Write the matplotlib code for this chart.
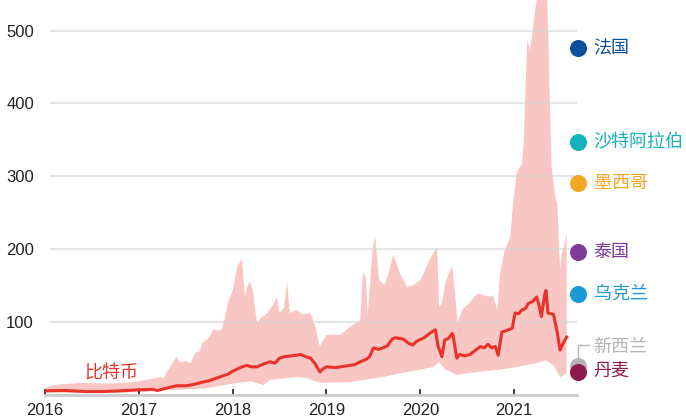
import numpy as np
import matplotlib
matplotlib.use("Agg")
import matplotlib.pyplot as plt

plt.rcParams['font.family'] = ['Liberation Sans', 'Noto Sans CJK SC', 'DejaVu Sans']

# upper edge of the shaded range (decimal year, value)
t_upper = [2016.00, 2016.10, 2016.37, 2016.70, 2016.94, 2017.08, 2017.23, 2017.26, 2017.30, 2017.37,
           2017.40, 2017.44, 2017.50, 2017.55, 2017.60, 2017.65, 2017.68, 2017.75, 2017.79, 2017.86,
           2017.89, 2017.92, 2017.95, 2018.00, 2018.05, 2018.08, 2018.10, 2018.13, 2018.16, 2018.19,
           2018.22, 2018.24, 2018.26, 2018.30, 2018.37, 2018.44, 2018.47, 2018.50, 2018.55, 2018.58,
           2018.61, 2018.68, 2018.75, 2018.83, 2018.88, 2018.93, 2019.00, 2019.15, 2019.25, 2019.36,
           2019.39, 2019.42, 2019.44, 2019.49, 2019.52, 2019.56, 2019.62, 2019.67, 2019.71, 2019.75,
           2019.78, 2019.86, 2019.92, 2020.00, 2020.05, 2020.10, 2020.16, 2020.18, 2020.20, 2020.23,
           2020.26, 2020.30, 2020.34, 2020.37, 2020.40, 2020.45, 2020.52, 2020.58, 2020.62, 2020.70,
           2020.78, 2020.82, 2020.85, 2020.90, 2020.96, 2020.99, 2021.03, 2021.08, 2021.10, 2021.14,
           2021.17, 2021.19, 2021.22, 2021.26, 2021.31, 2021.35, 2021.36, 2021.38, 2021.40, 2021.44,
           2021.46, 2021.48, 2021.49, 2021.51, 2021.54, 2021.56]
upper = [9, 13, 16, 15, 17, 20, 24, 22, 31, 45,
         52, 44, 46, 43, 57, 60, 71, 78, 89, 88,
         91, 107, 126, 143, 176, 182, 187, 134, 150, 155,
         140, 116, 98, 105, 112, 125, 134, 112, 120, 155,
         112, 116, 110, 112, 93, 66, 82, 82, 93, 102,
         169, 160, 110, 198, 217, 157, 151, 170, 192, 180,
         167, 148, 150, 157, 170, 185, 199, 201, 120, 125,
         150, 165, 176, 140, 98, 118, 125, 135, 139, 135,
         135, 116, 167, 198, 217, 265, 306, 316, 340, 487,
         473, 491, 524, 560, 580, 560, 514, 404, 312, 270,
         263, 198, 171, 194, 208, 221]

# lower edge of the shaded range
t_lower = [2016.00, 2016.50, 2017.00, 2017.30, 2017.68, 2018.05, 2018.20, 2018.33, 2018.40, 2018.70,
           2018.80, 2018.93, 2019.25, 2019.40, 2019.60, 2019.78, 2020.00, 2020.14, 2020.20, 2020.26,
           2020.39, 2020.55, 2020.83, 2021.00, 2021.20, 2021.34, 2021.42, 2021.49, 2021.56]
lower = [3, 2.5, 3, 6, 8, 16, 18, 13, 20, 24,
         22, 16, 17, 20, 24, 29, 34, 38, 45, 35,
         27, 30, 34, 37, 42, 47, 40, 24, 29]

# bitcoin
t_btc = [2016.00, 2016.20, 2016.45, 2016.60, 2016.80, 2017.00, 2017.15, 2017.20, 2017.30, 2017.40,
         2017.50, 2017.55, 2017.62, 2017.68, 2017.75, 2017.86, 2017.95, 2018.00, 2018.05, 2018.10,
         2018.15, 2018.20, 2018.26, 2018.33, 2018.40, 2018.45, 2018.50, 2018.55, 2018.62, 2018.68,
         2018.72, 2018.78, 2018.83, 2018.88, 2018.93, 2018.97, 2019.00, 2019.10, 2019.20, 2019.25,
         2019.30, 2019.36, 2019.42, 2019.46, 2019.50, 2019.55, 2019.60, 2019.65, 2019.70, 2019.73,
         2019.78, 2019.82, 2019.88, 2019.92, 2019.96, 2020.04, 2020.10, 2020.16, 2020.19, 2020.23,
         2020.26, 2020.30, 2020.34, 2020.35, 2020.39, 2020.42, 2020.47, 2020.53, 2020.58, 2020.64,
         2020.68, 2020.72, 2020.76, 2020.80, 2020.83, 2020.87, 2020.92, 2020.98, 2021.01, 2021.05,
         2021.08, 2021.12, 2021.15, 2021.20, 2021.24, 2021.27, 2021.29, 2021.33, 2021.34, 2021.36,
         2021.42, 2021.46, 2021.49, 2021.52, 2021.56]
btc = [5, 5.5, 4, 4, 5, 6.5, 7, 5.5, 9, 12,
       12, 13, 15, 17, 19, 24, 28, 32, 35, 38,
       40, 38, 38, 42, 45, 43, 50, 52, 53, 54,
       55, 52, 50, 42, 31, 36, 38, 37, 39, 40,
       41, 45, 48, 52, 64, 62, 64, 67, 76, 78,
       77, 76, 70, 68, 73, 78, 84, 89, 66, 52,
       75, 77, 84, 80, 50, 55, 53, 55, 60, 66,
       64, 69, 64, 66, 54, 86, 88, 91, 112, 111,
       116, 118, 125, 128, 134, 120, 107, 140, 143, 112,
       110, 85, 61, 70, 79]

# country markers on the right
countries = ["法国", "沙特阿拉伯", "墨西哥", "泰国", "乌克兰", "新西兰", "丹麦"]
country_vals = [476, 347, 291, 196, 138, 39, 31]
country_colors = ["#0b4f9c", "#13b1b9", "#f2a724", "#7d3c98", "#1b9ad6", "#b5b5b5", "#8e1a4c"]

years = [2016, 2017, 2018, 2019, 2020, 2021]
yticks = [100, 200, 300, 400, 500]

fig = plt.figure(figsize=(6.86, 4.2), dpi=100)
ax = fig.add_axes([0.0656, 0.0607, 0.7755, 0.9393])

# shaded range as a polygon
ax.fill(list(t_upper) + t_lower[::-1], list(upper) + lower[::-1],
        color="#f8c7c3", lw=0, zorder=1)
ax.plot(t_btc, btc, color="#e8322a", lw=2.2, zorder=3, solid_joinstyle="round")

for v in yticks:
    ax.axhline(v, xmin=0.011, color="#d6d6d6", lw=1.5, alpha=0.6, zorder=2)

ax.set_xlim(2016, 2021.67)
ax.set_ylim(0, 542)

ax.set_yticks(yticks)
ax.set_xticks(years)
ax.set_xticklabels([str(y) for y in years])
ax.tick_params(axis="y", length=0, pad=8, labelsize=12, colors="#222222")
ax.tick_params(axis="x", direction="in", length=4, width=1.2, color="#222222",
               pad=6, labelsize=12, labelcolor="#222222")

for s in ["top", "right", "left"]:
    ax.spines[s].set_visible(False)
ax.spines["bottom"].set_color("#cccccc")
ax.spines["bottom"].set_linewidth(2)

ax.text(2016.71, 29, "比特币", color="#e8322a", fontsize=13,
        family=["Noto Sans CJK SC"], ha="center", va="center")

# right-hand markers and labels
mx = 2021.685
for name, val, col in zip(countries, country_vals, country_colors):
    ax.scatter([mx], [val], s=150, color=col, clip_on=False, zorder=5, lw=0)
    if name == "新西兰":
        ax.annotate(name, xy=(mx, val), xytext=(11, 14), textcoords="offset points",
                    color=col, fontsize=13, family=["Noto Sans CJK SC"],
                    va="center", ha="left", annotation_clip=False)
        # leader from the dot up and to the right
        ax.annotate("", xy=(mx, val + 11), xytext=(7.5, 9.5),
                    textcoords="offset points", annotation_clip=False,
                    arrowprops=dict(arrowstyle="-", color=col, lw=1,
                                    connectionstyle="angle,angleA=0,angleB=90,rad=0",
                                    shrinkA=0, shrinkB=0))
    else:
        ax.annotate(name, xy=(mx, val), xytext=(11, 0), textcoords="offset points",
                    color=col, fontsize=13, family=["Noto Sans CJK SC"],
                    va="center", ha="left", annotation_clip=False)

fig.savefig("out.png", dpi=100)
